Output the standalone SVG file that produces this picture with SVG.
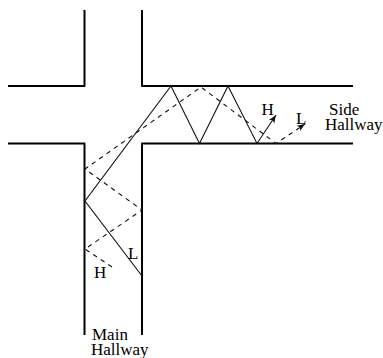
<svg xmlns="http://www.w3.org/2000/svg" width="383" height="358" viewBox="0 0 383 358">
<style>
.wall{fill:none;stroke:#000;stroke-width:2;stroke-linejoin:round}
.solid{fill:none;stroke:#111;stroke-width:1.1}
.dash{fill:none;stroke:#111;stroke-width:1.1;stroke-dasharray:4.500 4.500}
text{font-family:"Liberation Serif","Times New Roman",serif;font-size:17px;fill:#000}
</style>
<defs>
<marker id="a" markerUnits="userSpaceOnUse" markerWidth="9" markerHeight="8" refX="8" refY="4" orient="auto"><path d="M0,0.8L8,4L0,7.2L2,4Z" fill="#111"/></marker>
</defs>
<g id="walls">
<path class="wall" d="M8,86H84.5V10"/>
<path class="wall" d="M142,10V86H353"/>
<path class="wall" d="M8,143.500H84.500V335"/>
<path class="wall" d="M353,143.500H142V335"/>
</g>
<g id="connectors">
<path class="solid" marker-end="url(#a)" d="M142,276L85,201L171,86L199.500,143.500L228,86L257,143.500L276,115"/>
<path class="dash" marker-end="url(#a)" d="M112,267L85,249L142,210L85,169L201,87L276,143.500L305,124"/>
</g>
<g id="label-h-main"><text x="94" y="278">H</text></g>
<g id="label-l-main"><text x="128" y="259">L</text></g>
<g id="label-h-side"><text x="261.500" y="115">H</text></g>
<g id="label-l-side"><text x="296" y="124">L</text></g>
<g id="label-side"><text x="329" y="115">Side</text><text x="325" y="130">Hallway</text></g>
<g id="label-main"><text x="92" y="340">Main</text><text x="91" y="355">Hallway</text></g>
</svg>
